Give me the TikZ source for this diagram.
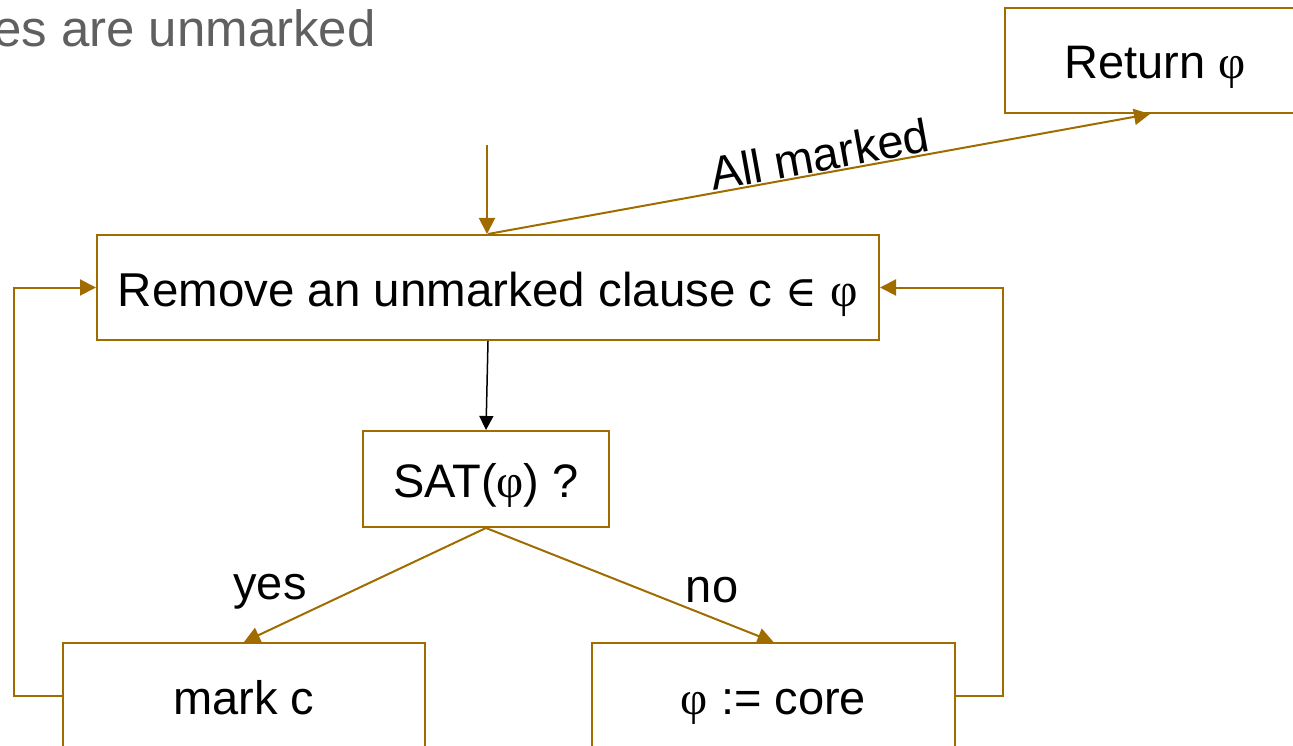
\documentclass[tikz,border=0pt]{standalone}
\usepackage{fontspec}
\setmainfont{Liberation Sans}
\newfontfamily\grk{Liberation Serif}
\newfontfamily\symf{DejaVu Serif}[Scale=0.9]
\usetikzlibrary{arrows.meta}
\definecolor{flow}{RGB}{160,108,0}
\definecolor{caption}{RGB}{96,96,96}
\newcommand{\ph}{{\grk φ}}
\newcommand{\elem}{{\symf ∈}}

\begin{document}
\begin{tikzpicture}[x=1pt,y=-1pt,
  txt/.style={font=\fontsize{47}{52}\selectfont},
  box/.style={draw=flow, line width=2pt, inner sep=0pt,
    minimum width=#1, minimum height=105pt, txt,
    text height=37pt, text depth=0pt},
  box/.default=300pt,
  link/.style={draw=flow, line width=2pt,
    -{Triangle[length=16pt,width=16pt]}},
  plain/.style={draw=black, line width=1.5pt,
    -{Triangle[length=14pt,width=14pt]}}]

\useasboundingbox (0,0) rectangle (1293,746);

% heading text
\node[anchor=base east, text=caption, inner sep=0pt,
      font=\fontsize{51}{55}\selectfont] (head) at (376,47) {es are unmarked};

% boxes
\node[box=300pt] (ret)  at (1155,60.5)  {Return \ph};
\node[box=782pt, font=\fontsize{47.5}{52}\selectfont] (rem) at (488,287.5)
  {Remove an unmarked clause c \elem{} \ph};
\node[box=246pt, minimum height=96pt] (sat) at (486,479) {SAT(\ph) ?};
\node[box=362pt] (mark) at (244,695.5)  {mark c};
\node[box=363pt] (core) at (773.5,695.5) {\ph{} := core};

% entry into the loop
\coordinate (entry) at (487,145);
\draw[link] (entry) -- (entry |- rem.north);

% exit when everything is marked
\draw[link] (rem.north) -- node[sloped, above, txt, inner sep=1pt, xshift=4pt] {All marked}
  ([xshift=-5pt]ret.south);

% test step
\draw[plain] (rem.south) -- (sat.north);
\draw[link] (sat.south) -- (mark.north);
\draw[link] (sat.south) -- (core.north);
\node[txt] (yes) at (270,592) {yes};
\node[txt] (no)  at (712,590) {no};

% back edges to the removal step
\draw[link] (mark.west) -- ++(-48,0) |- (rem.west);
\draw[link] (core.east) -- ++(47,0) |- (rem.east);

\end{tikzpicture}
\end{document}
